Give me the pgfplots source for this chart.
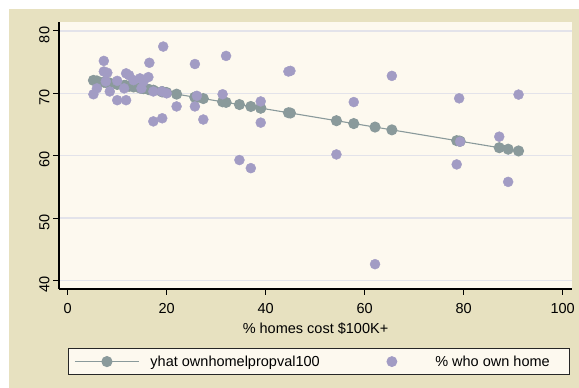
\documentclass[border=0pt]{standalone}
\usepackage{fontspec}
\setmainfont{Liberation Sans}
\usepackage{pgfplots}
\pgfplotsset{compat=1.18}
\definecolor{outerbg}{HTML}{E7E1C0}
\definecolor{plotbg}{HTML}{FDF9EF}
\definecolor{fitc}{HTML}{8A9A9B}
\definecolor{ptc}{HTML}{A29CC4}
\definecolor{gridc}{HTML}{E3E3EA}
\begin{document}
\begin{tikzpicture}[x=1pt,y=1pt]
\fill[white] (0,0) rectangle (579,388);
\path[use as bounding box] (0,0) rectangle (579,388);
\fill[outerbg] (9,0) rectangle (579,379);
\begin{axis}[
  at={(59pt,99pt)}, anchor=south west,
  width=513pt, height=267pt, scale only axis,
  xmin=-1.76, xmax=101.9, ymin=38.62, ymax=81.44,
  axis background/.style={fill=plotbg},
  axis x line*=bottom, axis y line*=left,
  axis line style={line width=1.2pt, black, -},
  xtick={0,20,...,100}, ytick={40,50,...,80},
  tick align=outside, major tick length=6pt,
  tick style={line width=1pt, black},
  ymajorgrids, grid style={gridc, line width=1.3pt},
  font=\fontsize{14.5}{17}\selectfont,
  /pgf/number format/assume math mode=true,
  yticklabel style={rotate=90, anchor=south, xshift=-4pt},
  xticklabel style={yshift=-5pt},
  xlabel={\% homes cost \$100K+},
  every axis x label/.style={at={(axis description cs:0.5,0)}, anchor=base, yshift=-45pt},
  legend columns=2,
  legend cell align=left,
  legend style={at={(axis description cs:0.01696,-0.3221)}, anchor=south west,
    draw=black!85, line width=0.8pt, fill=plotbg, inner xsep=6.3pt, inner ysep=7pt,
    nodes={inner sep=0pt}, column sep=0pt, font=\fontsize{14.5}{17}\selectfont},
]
\addplot[fitc, line width=1.1pt, mark=*, mark size=5pt, mark options={fill=fitc, draw=none},
  legend image code/.code={\draw[fitc, line width=1.1pt] (0pt,0pt) -- (64pt,0pt); \fill[fitc] (32pt,0pt) circle (5pt); \path (75pt,0pt);}]
coordinates {
(5.2,72.08) (5.9,71.99) (7.3,71.81) (7.3,71.81) (7.7,71.76) (8.0,71.72) (8.5,71.65)
(10.0,71.45) (10.0,71.45) (11.4,71.27) (11.8,71.21) (11.8,71.21) (12.4,71.13) (13.3,71.02)
(14.6,70.85) (14.9,70.81) (15.3,70.75) (16.3,70.62) (16.5,70.60) (17.3,70.49) (17.3,70.49)
(19.0,70.27) (19.05,70.26) (19.2,70.24) (20.0,70.13) (22.0,69.87) (25.7,69.38) (25.7,69.38)
(26.1,69.33) (27.4,69.16) (31.3,68.64) (32.0,68.55) (34.7,68.20) (37.0,67.89) (39.0,67.63)
(39.0,67.63) (44.6,66.89) (45.0,66.84) (54.3,65.61) (57.8,65.15) (62.1,64.59) (65.5,64.14)
(78.6,62.41) (79.1,62.34) (79.3,62.32) (87.2,61.28) (89.0,61.04) (91.1,60.76)
};
\addlegendentry{\makebox[236pt][l]{yhat ownhomelpropval100}}
\addplot[ptc, only marks, mark=*, mark size=5pt, mark options={fill=ptc, draw=none},
  legend image code/.code={\fill[ptc] (5pt,0pt) circle (5pt); \path (48pt,0pt);}]
coordinates {
(5.2,69.85) (5.9,70.8) (7.3,75.2) (7.3,73.5) (8.0,73.3) (7.7,71.9) (8.5,70.3)
(10.0,68.9) (10.0,72.0) (11.8,68.9) (11.8,73.2) (11.4,70.8) (12.4,72.9) (13.3,72.1)
(14.6,72.4) (14.9,70.8) (15.3,71.9) (16.3,72.6) (16.5,74.9) (17.3,65.5) (17.3,70.3)
(19.3,77.5) (19.1,66.0) (19.0,70.3) (20.0,70.0) (22.0,67.9) (25.7,74.7) (25.7,67.9)
(26.1,69.6) (27.4,65.8) (31.3,69.85) (32.0,76.0) (34.7,59.3) (37.0,58.0) (39.0,68.7)
(39.0,65.3) (44.6,73.5) (45.0,73.6) (54.3,60.2) (57.8,68.6) (62.1,42.6) (65.5,72.8)
(78.6,58.6) (79.1,69.2) (79.3,62.25) (87.2,63.05) (89.0,55.8) (91.1,69.8)
};
\addlegendentry{\makebox[128pt][l]{\% who own home}}
\end{axis}
\end{tikzpicture}
\end{document}
